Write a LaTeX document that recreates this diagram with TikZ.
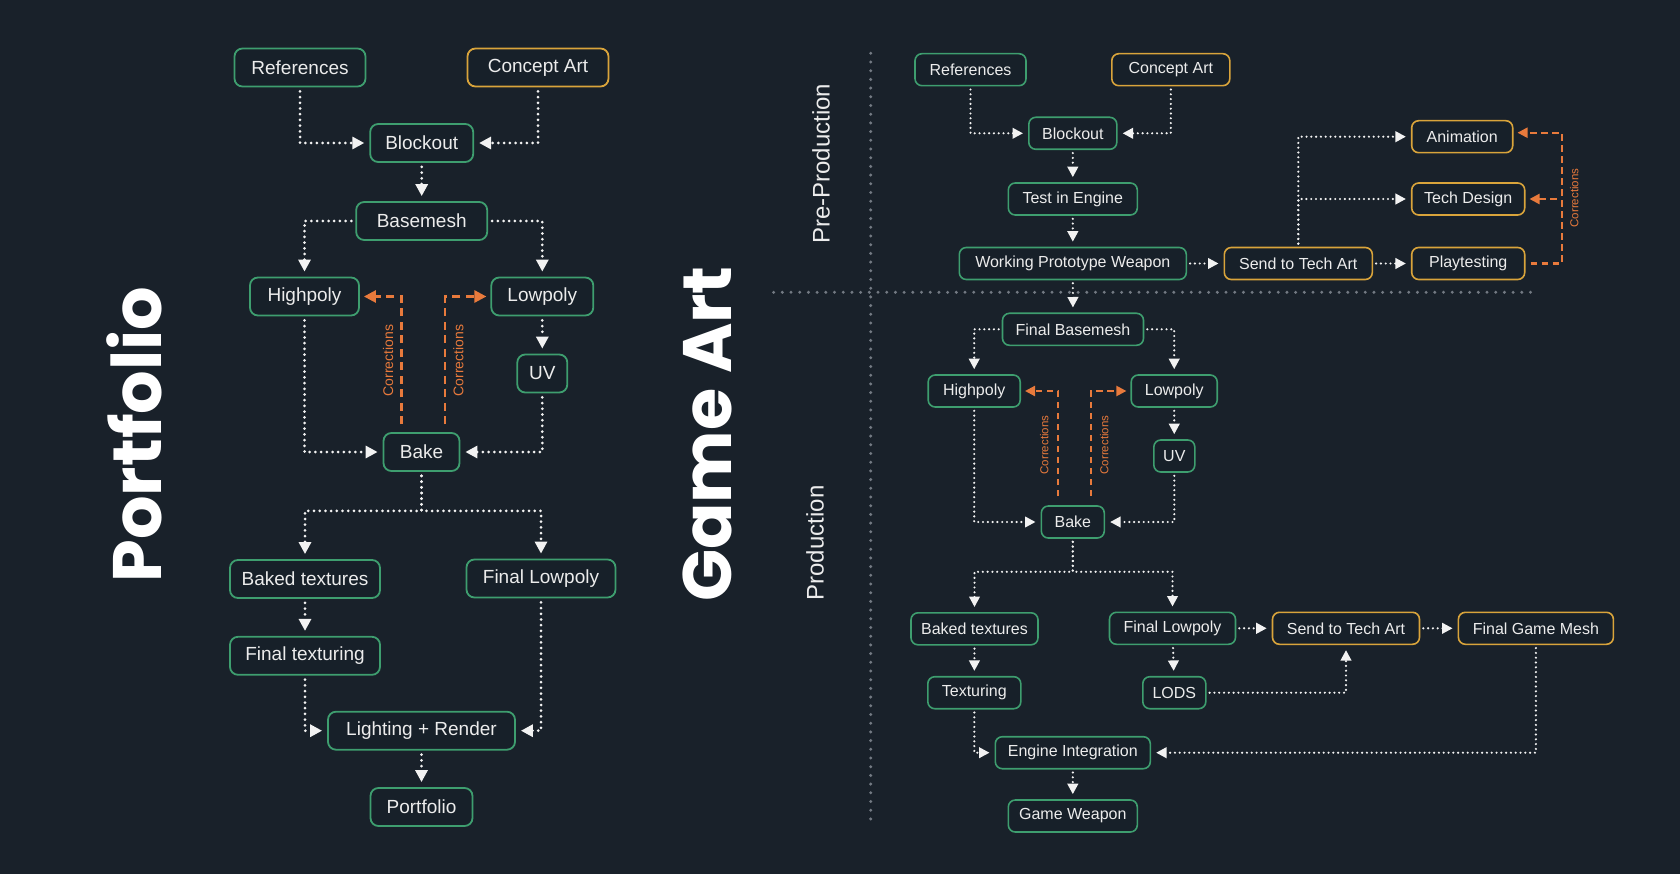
\documentclass[tikz,border=0pt]{standalone}
\usepackage{fontspec}
\setmainfont{Liberation Sans}
\newfontfamily\titlefont{Poppins}
\usetikzlibrary{arrows.meta,calc,positioning}
\definecolor{bgc}{HTML}{19212A}
\definecolor{boxc}{HTML}{172029}
\definecolor{txtc}{HTML}{ECECEC}
\definecolor{grnc}{HTML}{3E9E6F}
\definecolor{orgc}{HTML}{D9A43B}
\definecolor{corc}{HTML}{E87A3C}
\definecolor{dotc}{HTML}{F2F2F2}
\definecolor{sepc}{HTML}{737A83}
\tikzset{
	box/.style={rounded corners=8pt, line width=1.8pt, fill=boxc, text=txtc, inner sep=0pt, minimum height=38pt, font=\fontsize{19}{22}\selectfont},
	gbox/.style={box, draw=grnc, minimum width=#1},
	obox/.style={box, draw=orgc, minimum width=#1},
	sbox/.style={rounded corners=7pt, line width=1.6pt, fill=boxc, text=txtc, inner sep=0pt, minimum height=32pt, font=\fontsize{16}{19}\selectfont},
	sgbox/.style={sbox, draw=grnc, minimum width=#1},
	sobox/.style={sbox, draw=orgc, minimum width=#1},
	flow/.style={-{Triangle[length=12pt,width=12pt]}, draw=dotc, line width=3pt, line cap=round, dash pattern=on 0pt off 5.7pt, shorten <=4pt, shorten >=5pt},
	sflow/.style={-{Triangle[length=10.5pt,width=10.5pt]}, draw=dotc, line width=2.4pt, line cap=round, dash pattern=on 0pt off 4.8pt, shorten <=3pt, shorten >=5pt},
	corr/.style={-{Triangle[length=12pt,width=12pt]}, draw=corc, line width=2.6pt, dash pattern=on 8pt off 5.5pt, shorten >=4pt},
	scorr/.style={-{Triangle[length=10pt,width=10pt]}, draw=corc, line width=2.2pt, dash pattern=on 6.5pt off 4.5pt, shorten <=5pt, shorten >=4pt},
	corrtext/.style={rotate=90, text=corc, font=\fontsize{14}{16}\selectfont},
	scorrtext/.style={rotate=90, text=corc, font=\fontsize{11.5}{13}\selectfont},
	stagetext/.style={rotate=90, text=txtc, font=\fontsize{24}{28}\selectfont},
	titletext/.style={rotate=90, text=white, font=\titlefont\bfseries\fontsize{68.5}{76}\selectfont},
	sepline/.style={draw=sepc, line width=3.3pt, line cap=round, dash pattern=on 0pt off 8.7pt}
}

\begin{document}
\begin{tikzpicture}[x=1pt,y=-1pt]
		\useasboundingbox (0,0) rectangle (1680,874);
		\fill[bgc] (0,0) rectangle (1680,874);
		
		%%%% titles
		\node[titletext] (tport) at (134,434.5) {Portfolio};
		\node[titletext] (tgame) at (707,434) {Game Art};
		
		%%%% Portfolio pipeline
		\node[gbox=131] (lref) at (300,67.5) {References};
		\node[obox=141] (lcon) at (538,67.5) {Concept Art};
		\node[gbox=103] (lblk) at (421.7,143) {Blockout};
		\node[gbox=131] (lbase) at (421.7,221) {Basemesh};
		\node[gbox=109] (lhigh) at (304.5,296.5) {Highpoly};
		\node[gbox=102] (llow) at (542.3,296.5) {Lowpoly};
		\node[gbox=50] (luv) at (542.3,373.5) {UV};
		\node[gbox=76] (lbake) at (421.5,452) {Bake};
		\node[gbox=150] (lbt) at (305,579) {Baked textures};
		\node[gbox=149] (lfl) at (541,578.5) {Final Lowpoly};
		\node[gbox=150] (lft) at (305,655.8) {Final texturing};
		\node[gbox=187] (llr) at (421.5,730.7) {Lighting + Render};
		\node[gbox=102] (lport) at (421.5,807) {Portfolio};
		
		\draw[flow] (lref) |- (lblk);
		\draw[flow] (lcon) |- (lblk);
		\draw[flow] (lblk) -- (lbase);
		\draw[flow] (lbase) -| (lhigh);
		\draw[flow] (lbase) -| (llow);
		\draw[flow] (llow) -- (luv);
		\draw[flow] (lhigh) |- (lbake);
		\draw[flow] (luv) |- (lbake);
		\draw[flow] (lbake.south) -- ++(0,39) -| (lbt);
		\draw[flow] (lbake.south) -- ++(0,39) -| (lfl);
		\draw[flow] (lbt) -- (lft);
		\draw[flow] (lft) |- (llr);
		\draw[flow] (lfl) |- (llr);
		\draw[flow] (llr) -- (lport);
		
		%%%% corrections
		\draw[corr] ([xshift=-20pt,yshift=8pt]lbake.north) |- (lhigh);
		\draw[corr] ([xshift=23.5pt,yshift=8pt]lbake.north) |- (llow);
		\node[corrtext] (lcor1) at (388,360.5) {Corrections};
		\node[corrtext] (lcor2) at (458.3,360.5) {Corrections};
		
		%%%% stage separators
		\draw[sepline] (773.6,292.3) -- (1536,292.3);
		\draw[sepline] (870.7,53.3) -- (870.7,824);
		\node[stagetext] (spre) at (821,163.7) {Pre-Production};
		\node[stagetext] (sprod) at (815,543) {Production};
		
		%%%% Game Art: pre-production
		\node[sgbox=111] (rref) at (970.5,69.7) {References};
		\node[sobox=118] (rcon) at (1170.8,69.7) {Concept Art};
		\node[sgbox=88] (rblk) at (1072.8,133.3) {Blockout};
		\node[sgbox=129] (rtest) at (1072.8,199) {Test in Engine};
		\node[sgbox=227] (rwpw) at (1072.8,263.5) {Working Prototype Weapon};
		\node[sobox=148] (rsend) at (1298.3,263.5) {Send to Tech Art};
		\node[sobox=101] (ranim) at (1462.2,136.7) {Animation};
		\node[sobox=113] (rtech) at (1468.2,199) {Tech Design};
		\node[sobox=113] (rplay) at (1468.2,263.5) {Playtesting};
		
		\draw[sflow] (rref) |- (rblk);
		\draw[sflow] (rcon) |- (rblk);
		\draw[sflow] (rblk) -- (rtest);
		\draw[sflow] (rtest) -- (rwpw);
		\draw[sflow] (rwpw) -- (rsend);
		\draw[sflow] (rsend) -- (rplay);
		\draw[sflow] (rsend) |- (ranim);
		\draw[sflow] (rsend) |- (rtech);
		
		\coordinate (rcorr) at (1561.7,132.7);
		\draw[scorr] (rplay) -| (rcorr) -- (rcorr -| ranim.east);
		\draw[scorr] (rcorr |- rtech) -- (rtech);
		\node[scorrtext] (rcor0) at (1574.3,198) {Corrections};
		
		%%%% Game Art: production
		\node[sgbox=141] (rfb) at (1073,329.3) {Final Basemesh};
		\node[sgbox=92] (rhigh) at (974.2,391) {Highpoly};
		\node[sgbox=86] (rlow) at (1174.2,391) {Lowpoly};
		\node[sgbox=41] (ruv) at (1174.3,456) {UV};
		\node[sgbox=63] (rbake) at (1072.8,522) {Bake};
		\node[sgbox=127] (rbt) at (974.5,628.8) {Baked textures};
		\node[sgbox=126] (rfl) at (1172.5,628.3) {Final Lowpoly};
		\node[sgbox=93] (rtex) at (974.3,692.7) {Texturing};
		\node[sgbox=63] (rlod) at (1174.3,692.7) {LODS};
		\node[sobox=147] (rsend2) at (1346,628.3) {Send to Tech Art};
		\node[sobox=155] (rfgm) at (1535.9,628.3) {Final Game Mesh};
		\node[sgbox=155] (rei) at (1072.8,752.7) {Engine Integration};
		\node[sgbox=129] (rgw) at (1072.8,816) {Game Weapon};
		
		\draw[sflow] (rwpw) -- (rfb);
		\draw[sflow] (rfb) -| (rhigh);
		\draw[sflow] (rfb) -| (rlow);
		\draw[sflow] (rlow) -- (ruv);
		\draw[sflow] (rhigh) |- (rbake);
		\draw[sflow] (ruv) |- (rbake);
		\draw[sflow] (rbake.south) -- ++(0,33) -| (rbt);
		\draw[sflow] (rbake.south) -- ++(0,33) -| (rfl);
		\draw[sflow] (rbt) -- (rtex);
		\draw[sflow] (rfl) -- (rlod);
		\draw[sflow] (rfl) -- (rsend2);
		\draw[sflow] (rsend2) -- (rfgm);
		\draw[sflow] (rlod) -| (rsend2);
		\draw[sflow] (rtex) |- (rei);
		\draw[sflow] (rfgm) |- (rei);
		\draw[sflow] (rei) -- (rgw);
		
		\draw[scorr] ([xshift=-15pt,yshift=4pt]rbake.north) |- (rhigh);
		\draw[scorr] ([xshift=18.5pt,yshift=4pt]rbake.north) |- (rlow);
		\node[scorrtext] (rcor1) at (1044.3,445) {Corrections};
		\node[scorrtext] (rcor2) at (1104.3,445) {Corrections};
		
\end{tikzpicture}
\end{document}
